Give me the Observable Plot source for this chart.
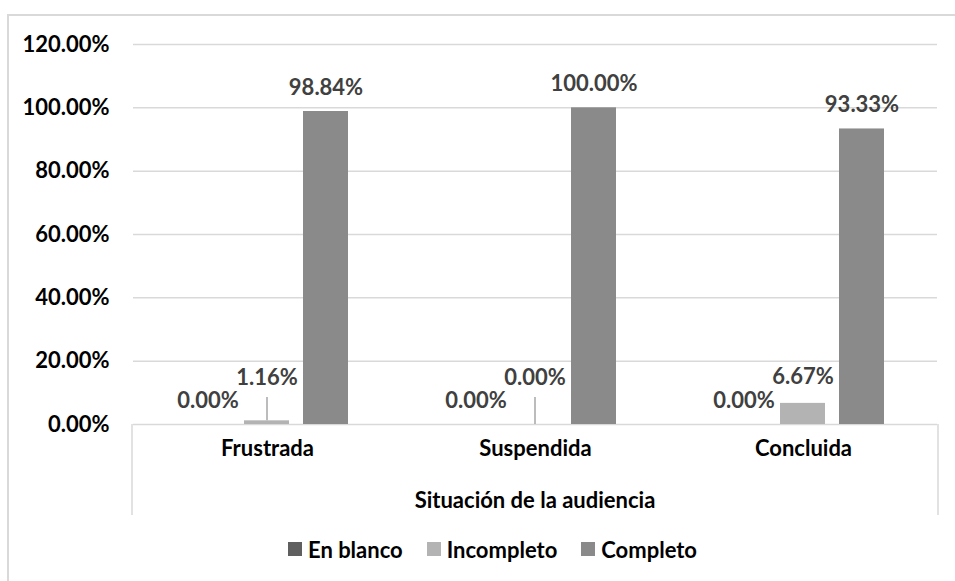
<!DOCTYPE html>
<html>
<head>
<meta charset="utf-8">
<script src="https://cdn.jsdelivr.net/npm/d3@7"></script>
<script src="https://cdn.jsdelivr.net/npm/@observablehq/plot@0.6"></script>
<style>
  body { margin: 0; background: #fff; font-family: Lato, "Open Sans", sans-serif; }
  #wrap { position: relative; width: 955px; height: 581px; overflow: hidden; background: #fff; }
  #border { position: absolute; left: 7px; top: 14px; width: 1000px; height: 1000px;
            border-left: 2px solid #d9d9d9; border-top: 2px solid #d9d9d9; }
  #chart { position: absolute; left: 0; top: 0; }
  #legend { position: absolute; left: 0; top: 525px; width: 955px; height: 48px;
            display: flex; justify-content: center; align-items: center;
            padding-left: 30px; box-sizing: border-box;
            font-weight: bold; font-size: 22px; color: #000; }
  .item { display: flex; align-items: center; margin: 0 12px; }
  .sw { width: 14px; height: 14px; margin-right: 6px; }
</style>
</head>
<body>
<div id="wrap">
  <div id="border"></div>
  <div id="chart"></div>
  <div id="legend"></div>
</div>
<script>
const categories = ["Frustrada", "Suspendida", "Concluida"];
const series = ["En blanco", "Incompleto", "Completo"];
const enBlanco = [0, 0, 0];
const incompleto = [1.16, 0, 6.67];
const completo = [98.84, 100, 93.33];
const yTicks = [0, 20, 40, 60, 80, 100, 120];
const colors = ["#5f5f5f", "#b3b3b3", "#8a8a8a"];
const xTitle = "Situación de la audiencia";

const valuesBySeries = [enBlanco, incompleto, completo];
const rows = [];
categories.forEach((c, i) => {
  series.forEach((s, j) => rows.push({cat: c, series: s, value: valuesBySeries[j][i]}));
});
const fmt = d => d.value.toFixed(2) + "%";
const rowsOf = s => rows.filter(d => d.series === s);
const leaders = rowsOf("Incompleto").filter(d => d.value < 5);

const plot = Plot.plot({
  width: 955,
  height: 525,
  marginLeft: 132,
  marginRight: 17,
  marginTop: 44,
  marginBottom: 101,
  style: {fontFamily: "Lato, 'Open Sans', sans-serif", fontSize: "22px", fontWeight: "bold", background: "transparent", color: "#000"},
  fx: {domain: categories, padding: 0, axis: null},
  x: {domain: series, paddingInner: 0.233, paddingOuter: 0.855, axis: null},
  y: {domain: [0, 120], axis: null},
  color: {domain: series, range: colors},
  marks: [
    Plot.axisY({ticks: yTicks, tickFormat: d => d.toFixed(2) + "%", tickSize: 0, tickPadding: 24,
                label: null, fontSize: 22, fontWeight: "bold", fill: "#000"}),
    Plot.ruleY(yTicks, {stroke: "#d9d9d9", strokeWidth: 1.5}),
    Plot.barY(rows, {fx: "cat", x: "series", y: "value", fill: "series"}),
    Plot.ruleX(leaders, {fx: "cat", x: "series", y1: "value", y2: 8.5, stroke: "#a6a6a6", strokeWidth: 1.5}),
    Plot.text(rowsOf("Completo"), {fx: "cat", x: "series", y: "value", text: fmt, dy: -24, fill: "#404040"}),
    Plot.text(rowsOf("En blanco"), {fx: "cat", x: "series", y: "value", text: fmt, dy: -24, fill: "#404040"}),
    Plot.text(rowsOf("Incompleto"), {fx: "cat", x: "series", y: d => Math.max(d.value, 6.5), text: fmt, dy: -26, fill: "#404040"}),
    Plot.text(categories, {fx: d => d, text: d => d, frameAnchor: "bottom", dy: 31, fill: "#000"})
  ]
});
document.getElementById("chart").appendChild(plot);

// separators and axis title placed from the plot's scales
const fxr = plot.scale("fx").range;
const y0 = plot.scale("y").apply(0);
const g = d3.select(plot).append("g");
g.selectAll("line").data([fxr[0], fxr[1]]).join("line")
  .attr("x1", d => d).attr("x2", d => d)
  .attr("y1", y0).attr("y2", y0 + 91)
  .attr("stroke", "#d9d9d9").attr("stroke-width", 1.5);
g.append("text")
  .attr("x", (fxr[0] + fxr[1]) / 2).attr("y", y0 + 76)
  .attr("text-anchor", "middle").attr("dy", "0.35em")
  .attr("fill", "#000")
  .text(xTitle);

// legend
const legend = d3.select("#legend");
series.forEach((s, i) => {
  const it = legend.append("div").attr("class", "item");
  it.append("div").attr("class", "sw").style("background", colors[i]);
  it.append("span").text(s);
});
</script>
</body>
</html>
